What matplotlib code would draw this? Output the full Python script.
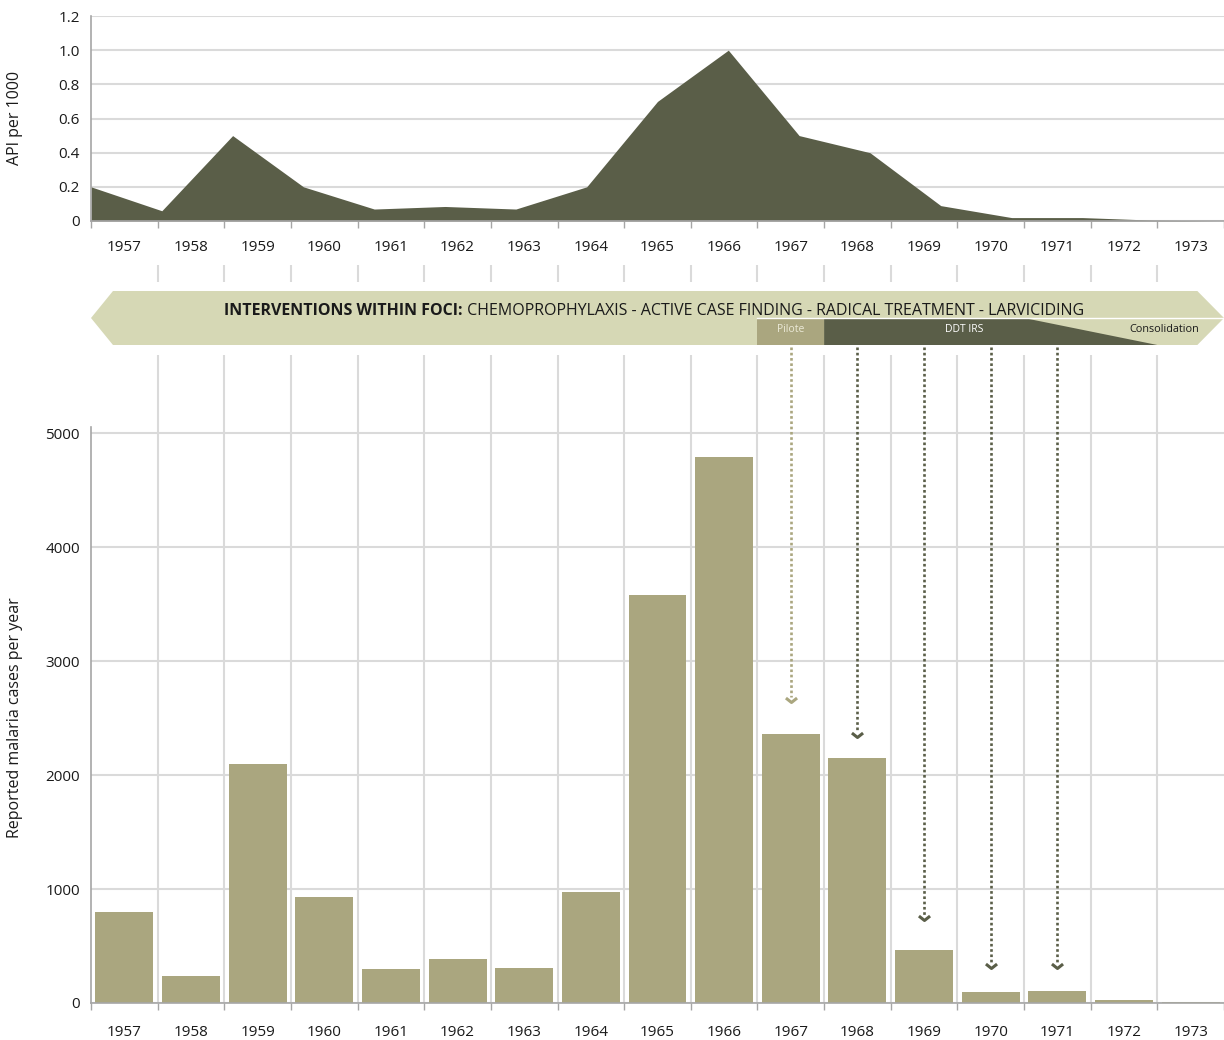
import matplotlib
matplotlib.use("Agg")
import matplotlib.pyplot as plt
import numpy as np
from matplotlib.patches import Polygon
from matplotlib.transforms import blended_transform_factory

plt.rcParams['font.family'] = ['Open Sans', 'DejaVu Sans']

# données
years = [1957, 1958, 1959, 1960, 1961, 1962, 1963, 1964, 1965,
         1966, 1967, 1968, 1969, 1970, 1971, 1972, 1973]
api = [0.20, 0.06, 0.50, 0.20, 0.07, 0.085, 0.07, 0.20, 0.70,
       1.00, 0.50, 0.40, 0.09, 0.02, 0.02, 0.005, 0.0]
cases = [800, 240, 2100, 930, 300, 385, 305, 975, 3580,
         4790, 2360, 2150, 465, 100, 105, 25, 8]
api_ticks = [0, 0.2, 0.4, 0.6, 0.8, 1.0, 1.2]
api_tick_labels = ['0', '0.2', '0.4', '0.6', '0.8', '1.0', '1.2']
case_ticks = [0, 1000, 2000, 3000, 4000, 5000]

arrow_years = [1967, 1968, 1969, 1970, 1971]
arrow_tips = [2640, 2335, 730, 310, 310]

banner_bold = "INTERVENTIONS WITHIN FOCI:"
banner_text = " CHEMOPROPHYLAXIS - ACTIVE CASE FINDING - RADICAL TREATMENT - LARVICIDING"

DARK = '#5a5e48'
BAR = '#aaa67f'
LIGHT = '#d6d8b5'
GRID = '#dadada'
SPINE = '#a6a6a6'
TXT = '#1a1a1a'

W, H = 1224, 1040
BOT_TOP, BOT_ZERO = 265, 1003
YMAX = 6474


def box(x0, y0, x1, y1):
    return [x0 / W, 1 - y1 / H, (x1 - x0) / W, (y1 - y0) / H]


def val(ypx):
    # hauteur en pixels -> valeur sur l'axe du bas
    return (BOT_ZERO - ypx) * YMAX / (BOT_ZERO - BOT_TOP)


fig = plt.figure(figsize=(W / 100, H / 100), dpi=100)
ax1 = fig.add_axes(box(91, 16, 1224, 221))
ax2 = fig.add_axes(box(91, BOT_TOP, 1224, BOT_ZERO))

n = len(years)
centers = np.arange(n)
bounds = np.arange(n + 1) - 0.5

# --- graphique du haut : API ---
ax1.fill_between(np.linspace(-0.5, n - 0.5, len(api)), api, color=DARK, lw=0, zorder=2)
ax1.set_xlim(-0.5, n - 0.5)
ax1.set_ylim(0, 1.2)
ax1.set_yticks(api_ticks)
ax1.set_yticklabels(api_tick_labels)
ax1.yaxis.grid(True, color=GRID, lw=1.5)
ax1.set_axisbelow(True)
fig.text(15 / W, 1 - 118 / H, "API per 1000", rotation=90,
         ha='center', va='center', fontsize=11.5, color=TXT)

# --- graphique du bas : cas ---
ax2.bar(centers, cases, width=0.87, color=BAR, zorder=2)
ax2.set_xlim(-0.5, n - 0.5)
ax2.set_ylim(0, YMAX)
ax2.set_yticks(case_ticks)
ax2.set_yticklabels([str(v) for v in case_ticks])
ax2.yaxis.grid(True, color=GRID, lw=1.5)
ax2.set_axisbelow(True)
inner = bounds[1:-1]
ax2.vlines(inner, 0, val(355), color=GRID, lw=1.5, zorder=1)
ax2.vlines(inner, val(282), YMAX, color=GRID, lw=1.5, zorder=1)
ax2.spines['left'].set_bounds(0, 5050)
fig.text(15 / W, 1 - 718 / H, "Reported malaria cases per year", rotation=90,
         ha='center', va='center', fontsize=11.5, color=TXT)

for ax, pad in [(ax1, 14), (ax2, 15.5)]:
    ax.set_xticks(bounds)
    ax.set_xticklabels([])
    ax.set_xticks(centers, minor=True)
    ax.set_xticklabels([str(y) for y in years], minor=True)
    ax.tick_params(axis='x', which='major', length=5, width=1, color=SPINE, direction='out')
    ax.tick_params(axis='x', which='minor', length=0, pad=pad, labelsize=11, labelcolor=TXT)
    ax.tick_params(axis='y', length=0, pad=8, labelsize=11, labelcolor=TXT)
    for s in ['top', 'right']:
        ax.spines[s].set_visible(False)
    for s in ['left', 'bottom']:
        ax.spines[s].set_color(SPINE)
        ax.spines[s].set_linewidth(1.2)
        ax.spines[s].set_zorder(3)

# flèches pointillées
arrow_top = val(347)
for yr, tip in zip(arrow_years, arrow_tips):
    x = years.index(yr)
    c = BAR if yr == 1967 else DARK
    ax2.plot([x, x], [arrow_top, tip + 40], color=c, lw=1.9,
             linestyle=(0, (1, 1)), zorder=3, solid_capstyle='butt')
    ax2.plot([x], [tip], marker=[(-1, 0.8), (0, 0), (1, 0.8)], markersize=8,
             mfc='none', mec=c, mew=2.2, zorder=3)

# bandeau des interventions
tr = blended_transform_factory(ax2.transData, fig.transFigure)
yt, ym, yb = 1 - 291 / H, 1 - 318 / H, 1 - 345 / H
outline = [(-0.5, ym), (-0.17, yt), (16.1, yt), (16.5, ym), (16.1, yb), (-0.17, yb)]
fig.add_artist(Polygon(outline, closed=True, transform=tr, fc=LIGHT, ec='none', zorder=5))
fig.add_artist(Polygon([(9.5, ym), (10.5, ym), (10.5, yb), (9.5, yb)], closed=True,
                       transform=tr, fc=BAR, ec='none', zorder=6))
fig.add_artist(Polygon([(10.5, ym), (13.5, ym), (15.5, yb), (10.5, yb)], closed=True,
                       transform=tr, fc=DARK, ec='none', zorder=6))
fig.add_artist(plt.Line2D([9.5, 16.5], [ym, ym], transform=tr, color='white', lw=1, zorder=7))

ty = 1 - 330 / H
fig.text(10, ty, "Pilote", transform=tr, ha='center', va='center', fontsize=7.5,
         color='#ecead8', zorder=8)
fig.text(12.6, ty, "DDT IRS", transform=tr, ha='center', va='center', fontsize=7.5,
         color='white', zorder=8)
fig.text(16.12, ty, "Consolidation", transform=tr, ha='right', va='center', fontsize=7.8,
         color=TXT, zorder=8)

t1 = fig.text(218 / W, 1 - 315 / H, banner_bold, ha='left', va='baseline', fontsize=11.5,
              fontweight='bold', color=TXT, zorder=8)
t2 = plt.Annotation(banner_text, xy=(1, 0), xycoords=t1, ha='left', va='bottom',
                    fontsize=11.5, color=TXT, zorder=8)
fig.add_artist(t2)

# centrer la ligne complète sous 1965
r = fig.canvas.get_renderer()
w_all = t1.get_window_extent(r).width + t2.get_window_extent(r).width
t1.set_x((654 - w_all / 2) / W)

plt.savefig("out.png", dpi=100)
plt.close()
